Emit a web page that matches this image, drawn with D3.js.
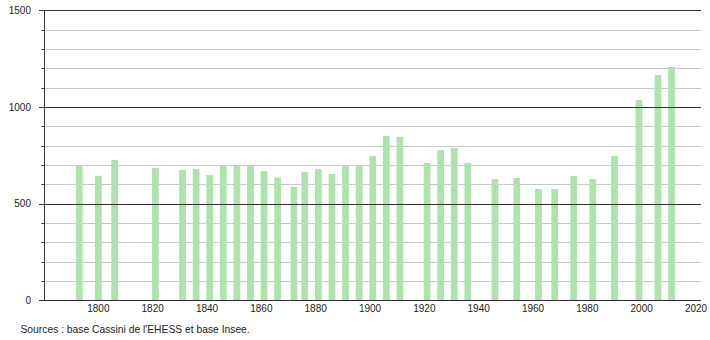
<!DOCTYPE html>
<html><head><meta charset="utf-8">
<script src="https://cdn.jsdelivr.net/npm/d3@7/dist/d3.min.js"></script>
<style>body{margin:0;background:#fff}svg{display:block;font-family:"Liberation Sans",Arial,sans-serif}</style>
</head><body><svg id="c" width="710" height="340"></svg>
<script>
const years = [1793,1800,1806,1821,1831,1836,1841,1846,1851,1856,1861,1866,1872,1876,1881,1886,1891,1896,1901,1906,1911,1921,1926,1931,1936,1946,1954,1962,1968,1975,1982,1990,1999,2006,2011];
const population = [700,644,726,684,674,679,648,698,694,694,669,636,586,664,678,653,694,694,746,850,845,710,777,788,711,627,633,576,576,643,627,746,1036,1165,1207];
const xTicks = [1800,1820,1840,1860,1880,1900,1920,1940,1960,1980,2000,2020];
const yMajor = [0,500,1000,1500];
const yMinor = d3.range(0,1501,100);
const source = "Sources : base Cassini de l'EHESS et base Insee.";

const svg = d3.select("#c");
const x = d3.scaleLinear().domain([1780,2020]).range([44,696]);
const y = d3.scaleLinear().domain([0,1500]).range([300.3,10.3]);
const right = 701;

svg.append("g").selectAll("line").data(yMinor.filter(v=>v%500!==0)).join("line")
  .attr("x1",44).attr("x2",right).attr("y1",d=>Math.round(y(d))+0.5).attr("y2",d=>Math.round(y(d))+0.5)
  .attr("stroke","#c8c8c8").attr("stroke-width",1);
svg.append("g").selectAll("line").data(yMinor.filter(v=>v%500!==0)).join("line")
  .attr("x1",41.5).attr("x2",44).attr("y1",d=>Math.round(y(d))+0.5).attr("y2",d=>Math.round(y(d))+0.5)
  .attr("stroke","#333").attr("stroke-width",1);

svg.append("g").selectAll("rect").data(years).join("rect")
  .attr("x",(d)=>x(d)-3.4).attr("width",6.8)
  .attr("y",(d,i)=>y(population[i])).attr("height",(d,i)=>y(0)-y(population[i]))
  .attr("fill","#aee3ae");

svg.append("g").selectAll("line").data(yMajor).join("line")
  .attr("x1",39).attr("x2",right).attr("y1",d=>Math.round(y(d))+0.5).attr("y2",d=>Math.round(y(d))+0.5)
  .attr("stroke","#333").attr("stroke-width",1);
svg.append("line").attr("x1",44.5).attr("x2",44.5).attr("y1",y(1500)).attr("y2",y(0)+0.5)
  .attr("stroke","#333").attr("stroke-width",1);

svg.append("g").selectAll("text").data(yMajor).join("text")
  .attr("x",31).attr("y",d=>y(d)+3.6).attr("text-anchor","end")
  .attr("font-size",10).attr("fill","#222").text(d=>d);
svg.append("g").selectAll("text").data(xTicks).join("text")
  .attr("x",d=>x(d)).attr("y",312).attr("text-anchor","middle")
  .attr("font-size",10).attr("fill","#222").text(d=>d);
svg.append("text").attr("x",20.5).attr("y",333).attr("font-size",10.3).attr("fill","#222").text(source);
</script></body></html>
